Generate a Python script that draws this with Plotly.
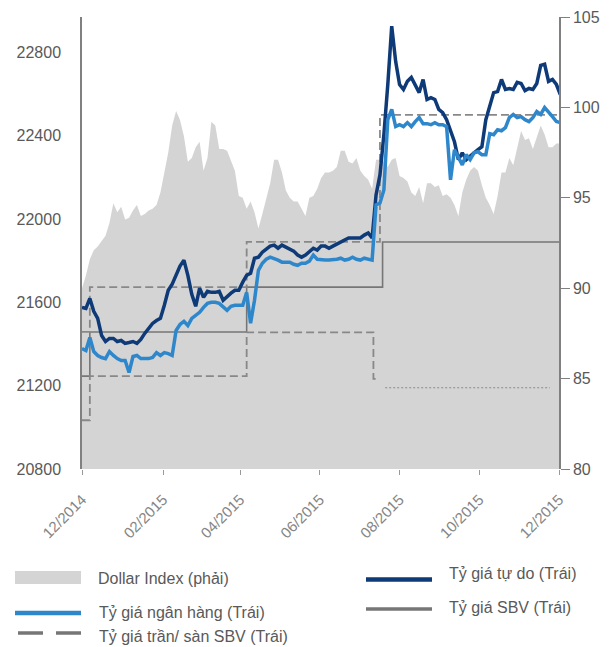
import pandas as pd
import plotly.graph_objects as go

# ---------------- data ----------------
start_date = "2014-12-01"   # series sampled every 3 days from this date

dollar_index = [90.0, 90.7, 91.6, 92.1, 92.3, 92.6, 92.9, 93.6, 94.7, 94.2,
                94.5, 93.8, 93.9, 94.3, 94.6, 94.0, 94.1, 94.3, 94.4, 94.6,
                95.3, 96.4, 97.5, 99.0, 99.8, 99.3, 98.4, 97.0, 97.2, 97.8,
                98.1, 96.5, 97.2, 99.2, 99.0, 97.7, 97.7, 97.6, 97.1, 96.5,
                95.1, 95.0, 94.4, 94.8, 94.2, 93.3, 94.1, 95.0, 95.8, 97.1,
                97.1, 96.4, 95.4, 95.0, 94.8, 94.8, 94.4, 94.0, 95.0, 95.1,
                95.5, 96.1, 96.4, 96.4, 96.5, 96.7, 97.6, 97.6, 97.0, 96.9,
                97.2, 96.5, 96.2, 96.0, 95.5, 97.1, 97.1, 97.0, 96.7, 97.1,
                97.2, 96.2, 96.1, 95.9, 95.3, 95.1, 95.6, 94.7, 95.8, 95.8,
                95.6, 95.7, 95.1, 95.2, 95.0, 94.6, 94.0, 95.3, 96.0, 96.5,
                96.7, 96.5, 95.7, 95.0, 94.6, 94.1, 95.1, 96.4, 96.4, 97.2,
                96.8, 97.8, 98.7, 98.2, 98.3, 97.7, 98.3, 99.0, 98.5, 97.8,
                97.8, 98.0, 98.0]

free_rate = [21576, 21571, 21619, 21557, 21523, 21441, 21412, 21427, 21427, 21412,
             21417, 21403, 21407, 21412, 21403, 21422, 21451, 21475, 21499, 21513,
             21523, 21586, 21658, 21687, 21730, 21774, 21803, 21730, 21639, 21581,
             21668, 21624, 21653, 21648, 21648, 21653, 21610, 21629, 21644, 21658,
             21658, 21697, 21730, 21740, 21812, 21817, 21841, 21856, 21870, 21875,
             21860, 21875, 21865, 21856, 21846, 21827, 21817, 21827, 21841, 21860,
             21851, 21870, 21870, 21860, 21870, 21880, 21889, 21899, 21909, 21909,
             21909, 21909, 21923, 21933, 21909, 22116, 22212, 22405, 22646, 22926,
             22757, 22646, 22622, 22661, 22680, 22646, 22607, 22670, 22574, 22583,
             22574, 22526, 22511, 22477, 22429, 22371, 22285, 22318, 22285, 22304,
             22318, 22333, 22347, 22477, 22540, 22607, 22612, 22670, 22622, 22627,
             22622, 22656, 22651, 22617, 22627, 22622, 22651, 22738, 22743, 22661,
             22670, 22646, 22598]

bank_rate = [21378, 21369, 21431, 21364, 21345, 21335, 21330, 21364, 21345, 21330,
             21321, 21321, 21263, 21340, 21345, 21330, 21330, 21330, 21335, 21359,
             21345, 21359, 21354, 21345, 21465, 21494, 21509, 21489, 21523, 21537,
             21552, 21576, 21595, 21600, 21600, 21595, 21576, 21562, 21581, 21586,
             21586, 21586, 21648, 21500, 21610, 21754, 21788, 21807, 21817, 21812,
             21803, 21793, 21793, 21793, 21783, 21778, 21788, 21788, 21798, 21827,
             21807, 21803, 21803, 21803, 21803, 21807, 21812, 21803, 21807, 21817,
             21807, 21803, 21812, 21807, 21803, 22068, 22077, 22140, 22477, 22526,
             22444, 22453, 22444, 22463, 22444, 22468, 22487, 22458, 22458, 22453,
             22463, 22453, 22453, 22444, 22188, 22333, 22299, 22260, 22309, 22285,
             22318, 22323, 22309, 22309, 22410, 22405, 22429, 22424, 22439, 22487,
             22502, 22487, 22492, 22477, 22468, 22487, 22516, 22502, 22535, 22516,
             22492, 22468, 22463]

sbv_dates = ["2014-12-01", "2014-12-07", "2015-04-06", "2015-07-19", "2015-12-01"]
sbv_rate = [21246, 21458, 21673, 21890, 21890]

ceil_dates = ["2014-12-01", "2014-12-07", "2015-04-06", "2015-07-17", "2015-12-01"]
ceil_rate = [21458, 21673, 21890, 22500, 22500]

floor_dates = ["2014-12-01", "2014-12-07", "2015-04-06", "2015-07-12", "2015-07-14"]
floor_rate = [21034, 21246, 21456, 21233, 21233]

floor2_dates = ["2015-07-21", "2015-11-24"]
floor2_rate = [21190, 21190]

tick_dates = ["2014-12-01", "2015-02-01", "2015-04-01", "2015-06-01",
              "2015-08-01", "2015-10-01", "2015-12-01"]
tick_labels = ["12/2014", "02/2015", "04/2015", "06/2015", "08/2015", "10/2015", "12/2015"]

left_ticks = [20800, 21200, 21600, 22000, 22400, 22800]
right_ticks = [80, 85, 90, 95, 100, 105]

legend_names = ["Dollar Index (phải)", "Tỷ giá tự do (Trái)", "Tỷ giá ngân hàng (Trái)",
                "Tỷ giá SBV (Trái)", "Tỷ giá trần/ sàn SBV (Trái)"]

# ---------------- styles ----------------
NAVY = "#0e3a78"
BLUE = "#2f87cb"
AREA = "#d4d4d5"
SBV = "#767676"
DASH = "#888888"
AXIS = "#808080"
TXT = "#595959"
FONT = "Liberation Sans, Arial, sans-serif"

# the page has an 8px body margin, so the figure is laid out 8px smaller
PAGE_OFF = 8

def dates_for(values):
    return pd.date_range(start_date, periods=len(values), freq="3D")

fig = go.Figure()

fig.add_trace(go.Scatter(x=dates_for(dollar_index), y=dollar_index, yaxis="y",
                         mode="lines", line=dict(width=0, color=AREA),
                         fill="tozeroy", fillcolor=AREA, name=legend_names[0],
                         showlegend=False))

fig.add_trace(go.Scatter(x=sbv_dates, y=sbv_rate, yaxis="y2", mode="lines",
                         line=dict(color=SBV, width=1.6, shape="hv"), showlegend=False))
fig.add_trace(go.Scatter(x=ceil_dates, y=ceil_rate, yaxis="y2", mode="lines",
                         line=dict(color=DASH, width=1.8, shape="hv", dash="8px,4px"),
                         showlegend=False))
fig.add_trace(go.Scatter(x=floor_dates, y=floor_rate, yaxis="y2", mode="lines",
                         line=dict(color=DASH, width=1.8, shape="hv", dash="8px,4px"),
                         showlegend=False))
fig.add_trace(go.Scatter(x=floor2_dates, y=floor2_rate, yaxis="y2", mode="lines",
                         line=dict(color=DASH, width=1, dash="2px,2px"),
                         showlegend=False))

fig.add_trace(go.Scatter(x=dates_for(free_rate), y=free_rate, yaxis="y2", mode="lines",
                         line=dict(color=NAVY, width=3.5), showlegend=False))
fig.add_trace(go.Scatter(x=dates_for(bank_rate), y=bank_rate, yaxis="y2", mode="lines",
                         line=dict(color=BLUE, width=3.5), showlegend=False))

fig.update_layout(
    width=611 - PAGE_OFF, height=647 - PAGE_OFF,
    margin=dict(l=82 - PAGE_OFF, r=52, t=17 - PAGE_OFF, b=178, autoexpand=False),
    paper_bgcolor="white", plot_bgcolor="white",
    font=dict(family=FONT, color=TXT, size=16),
    showlegend=False,
    xaxis=dict(type="date", range=["2014-12-01", "2015-12-01"],
               tickvals=tick_dates, ticktext=tick_labels, tickangle=-45,
               ticks="outside", ticklen=5, tickcolor="#999999",
               ticklabelstandoff=10,
               showgrid=False, zeroline=False, showline=False,
               tickfont=dict(size=15, color="#858585")),
    yaxis=dict(side="right", range=[80, 105], tickvals=right_ticks,
               ticks="outside", ticklen=9, tickcolor=AXIS, tickwidth=1.2,
               showline=True, linecolor=AXIS, linewidth=1.5,
               showgrid=False, zeroline=False, tickfont=dict(size=16, color=TXT)),
    yaxis2=dict(overlaying="y", side="left", range=[20800, 22970],
                tickvals=left_ticks, tickformat="d", ticks="outside", ticklen=16,
                tickcolor="rgba(0,0,0,0)", showline=True, linecolor=AXIS,
                linewidth=1.5, showgrid=False, zeroline=False,
                tickfont=dict(size=16, color=TXT)),
)

# ---------------- custom legend ----------------
W, H = 477.0, 452.0   # plot area size in px
def px_x(px):
    return (px - 82) / W
def px_y(py):
    return (469 - py) / H

shapes = [
    dict(type="rect", xref="paper", yref="paper", x0=px_x(15), x1=px_x(81),
         y0=px_y(584), y1=px_y(571), fillcolor=AREA, line=dict(width=0)),
    dict(type="line", xref="paper", yref="paper", x0=px_x(366), x1=px_x(432),
         y0=px_y(579.5), y1=px_y(579.5), line=dict(color=NAVY, width=4.5)),
    dict(type="line", xref="paper", yref="paper", x0=px_x(15), x1=px_x(81),
         y0=px_y(613), y1=px_y(613), line=dict(color=BLUE, width=4.5)),
    dict(type="line", xref="paper", yref="paper", x0=px_x(366), x1=px_x(432),
         y0=px_y(609), y1=px_y(609), line=dict(color=SBV, width=3.5)),
    dict(type="line", xref="paper", yref="paper", x0=px_x(18), x1=px_x(43),
         y0=px_y(633), y1=px_y(633), line=dict(color=SBV, width=3.5)),
    dict(type="line", xref="paper", yref="paper", x0=px_x(56), x1=px_x(81),
         y0=px_y(633), y1=px_y(633), line=dict(color=SBV, width=3.5)),
]
for s in shapes:
    fig.add_shape(**s)

legend_pos = [(96, 578), (447, 573), (97, 612), (447, 607), (97, 636)]
for name, (lx, ly) in zip(legend_names, legend_pos):
    fig.add_annotation(text=name, xref="paper", yref="paper", x=px_x(lx), y=px_y(ly),
                       xanchor="left", yanchor="middle", showarrow=False,
                       font=dict(size=16, color=TXT, family=FONT))

fig.write_html("out.html")
